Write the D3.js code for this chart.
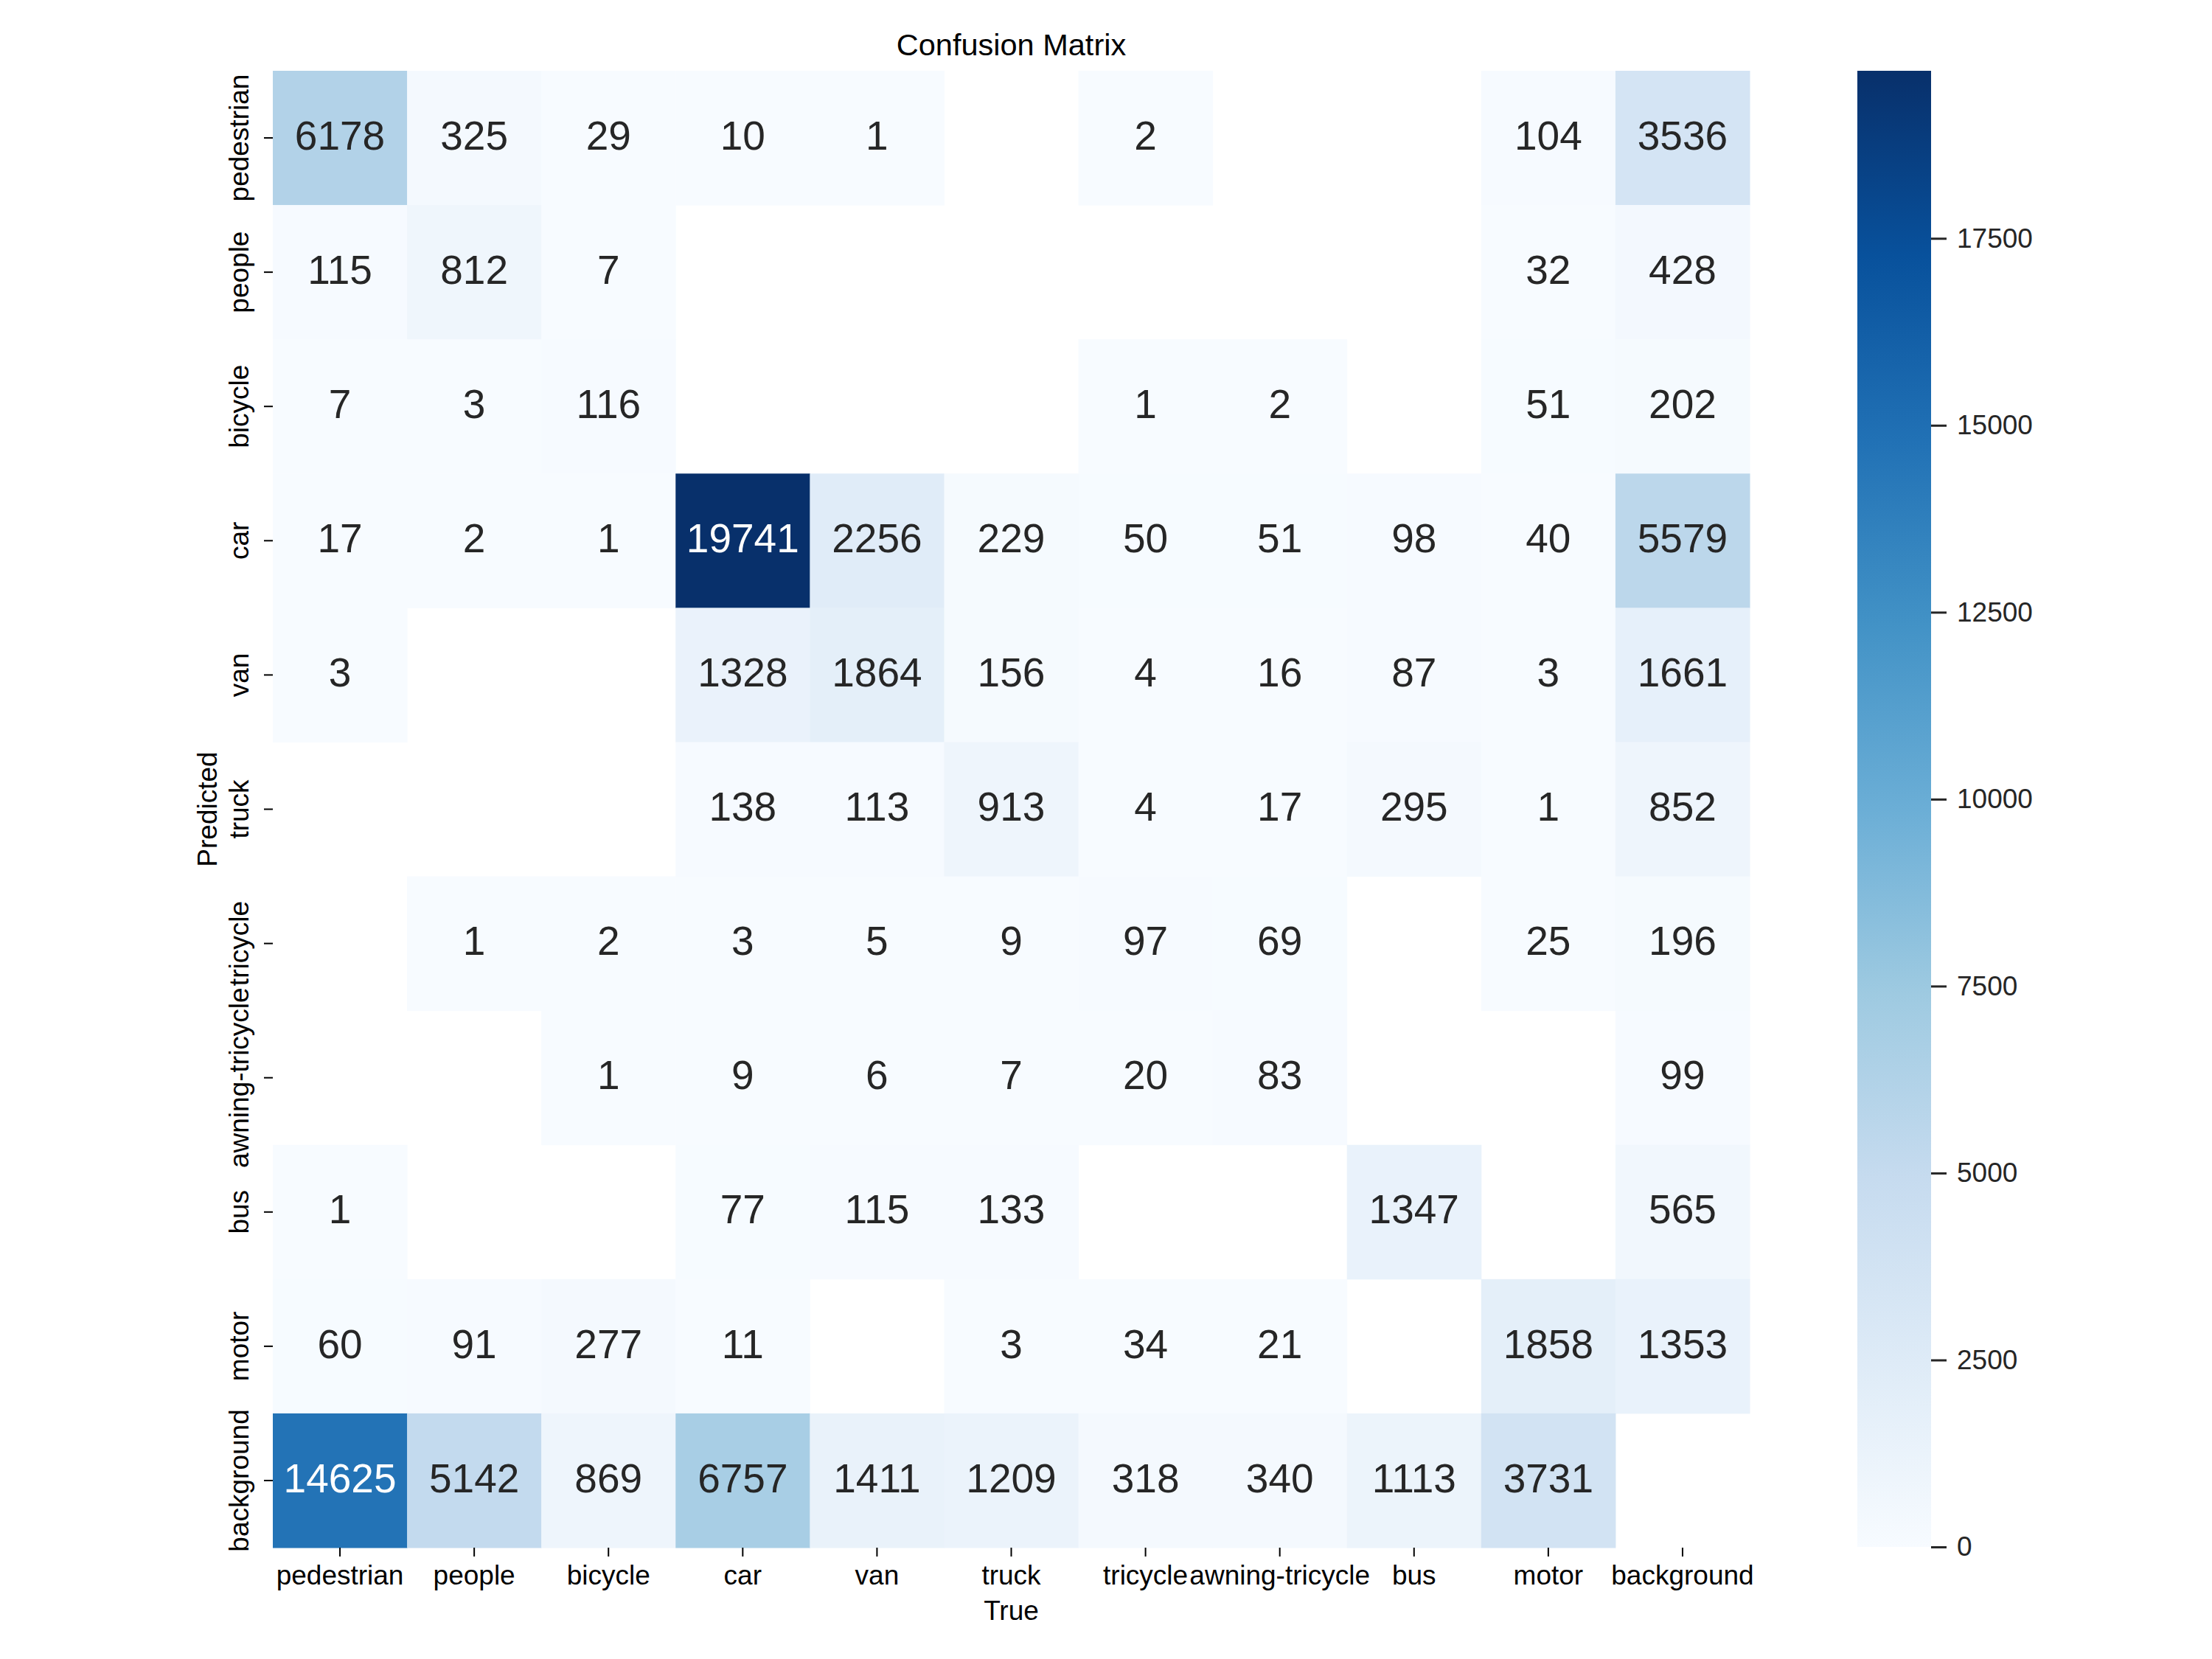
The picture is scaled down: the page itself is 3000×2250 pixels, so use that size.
<!DOCTYPE html>
<html><head><meta charset="utf-8">
<script src="https://cdn.jsdelivr.net/npm/d3@7"></script>
<style>
html,body{margin:0;padding:0;background:#fff;}
text{font-family:"Liberation Sans",Arial,sans-serif;}
</style></head>
<body>
<svg id="chart" width="3000" height="2250"></svg>
<script>
// ---- data ----
const predictedLabels = ["pedestrian","people","bicycle","car","van","truck","tricycle","awning-tricycle","bus","motor","background"];
const trueLabels = ["pedestrian","people","bicycle","car","van","truck","tricycle","awning-tricycle","bus","motor","background"];
// rows = predicted, columns = true; null = empty cell
const rowPedestrian = [6178, 325, 29, 10, 1, null, 2, null, null, 104, 3536];
const rowPeople = [115, 812, 7, null, null, null, null, null, null, 32, 428];
const rowBicycle = [7, 3, 116, null, null, null, 1, 2, null, 51, 202];
const rowCar = [17, 2, 1, 19741, 2256, 229, 50, 51, 98, 40, 5579];
const rowVan = [3, null, null, 1328, 1864, 156, 4, 16, 87, 3, 1661];
const rowTruck = [null, null, null, 138, 113, 913, 4, 17, 295, 1, 852];
const rowTricycle = [null, 1, 2, 3, 5, 9, 97, 69, null, 25, 196];
const rowAwning = [null, null, 1, 9, 6, 7, 20, 83, null, null, 99];
const rowBus = [1, null, null, 77, 115, 133, null, null, 1347, null, 565];
const rowMotor = [60, 91, 277, 11, null, 3, 34, 21, null, 1858, 1353];
const rowBackground = [14625, 5142, 869, 6757, 1411, 1209, 318, 340, 1113, 3731, null];
const matrix = [rowPedestrian,rowPeople,rowBicycle,rowCar,rowVan,rowTruck,rowTricycle,rowAwning,rowBus,rowMotor,rowBackground];
const colorbarTicks = [0, 2500, 5000, 7500, 10000, 12500, 15000, 17500];
const blues = ["#f7fbff","#deebf7","#c6dbef","#9ecae1","#6baed6","#4292c6","#2171b5","#08519c","#08306b"];

// ---- layout ----
const L = 370, R = 2373, T = 96, B = 2099;
const vmin = 0, vmax = d3.max(matrix.flat().filter(v => v != null));
const svg = d3.select("#chart");

const x = d3.scaleBand().domain(trueLabels).range([L, R]).padding(0);
const y = d3.scaleBand().domain(predictedLabels).range([T, B]).padding(0);
const color = d3.scaleLinear()
  .domain(blues.map((_, i) => vmin + (vmax - vmin) * i / (blues.length - 1)))
  .range(blues).interpolate(d3.interpolateRgb).clamp(true);

function lum(c) {
  const rgb = d3.rgb(c);
  const f = v => { v /= 255; return v <= 0.03928 ? v / 12.92 : Math.pow((v + 0.055) / 1.055, 2.4); };
  return 0.2126 * f(rgb.r) + 0.7152 * f(rgb.g) + 0.0722 * f(rgb.b);
}

const cells = [];
matrix.forEach((row, i) => row.forEach((v, j) => {
  if (v != null) cells.push({p: predictedLabels[i], t: trueLabels[j], v});
}));

svg.append("g").selectAll("rect").data(cells).join("rect")
  .attr("x", d => x(d.t)).attr("y", d => y(d.p))
  .attr("width", x.bandwidth() + 0.5).attr("height", y.bandwidth() + 0.5)
  .attr("fill", d => color(d.v));

svg.append("g").selectAll("text").data(cells).join("text")
  .attr("x", d => x(d.t) + x.bandwidth() / 2)
  .attr("y", d => y(d.p) + y.bandwidth() / 2)
  .attr("dy", "0.285em")
  .attr("text-anchor", "middle")
  .attr("font-size", 55)
  .attr("fill", d => lum(color(d.v)) > 0.408 ? "#262626" : "#ffffff")
  .text(d => d3.format("d")(d.v));

// x axis
const gx = svg.append("g").attr("transform", `translate(0,${B})`)
  .call(d3.axisBottom(x).tickSize(12).tickPadding(12));
gx.select(".domain").remove();
gx.selectAll(".tick line").attr("stroke", "#000").attr("stroke-width", 2);
gx.selectAll(".tick text").attr("font-size", 37).attr("fill", "#000")
  .style("font-family", '"Liberation Sans",Arial,sans-serif');

// y axis
const gy = svg.append("g").attr("transform", `translate(${L},0)`)
  .call(d3.axisLeft(y).tickSize(12).tickPadding(12));
gy.select(".domain").remove();
gy.selectAll(".tick line").attr("stroke", "#000").attr("stroke-width", 2);
gy.selectAll(".tick text")
  .attr("font-size", 37).attr("fill", "#000")
  .style("font-family", '"Liberation Sans",Arial,sans-serif')
  .attr("text-anchor", "middle")
  .attr("transform", "rotate(-90)")
  .attr("x", 0).attr("y", -33).attr("dy", 0);

// title & labels
svg.append("text").attr("x", (L + R) / 2).attr("y", 75).attr("text-anchor", "middle")
  .attr("font-size", 41.5).attr("fill", "#000").text("Confusion Matrix");
svg.append("text").attr("x", (L + R) / 2).attr("y", 2197).attr("text-anchor", "middle")
  .attr("font-size", 37).attr("fill", "#000").text("True");
svg.append("text").attr("transform", `translate(294,${(T + B) / 2}) rotate(-90)`)
  .attr("text-anchor", "middle").attr("font-size", 37).attr("fill", "#000").text("Predicted");

// colorbar
const CL = 2519, CW = 100, CT = 96, CB = 2098;
const defs = svg.append("defs");
const grad = defs.append("linearGradient").attr("id", "cbgrad")
  .attr("x1", 0).attr("y1", 1).attr("x2", 0).attr("y2", 0);
blues.forEach((c, i) => grad.append("stop").attr("offset", i / (blues.length - 1)).attr("stop-color", c));
svg.append("rect").attr("x", CL).attr("y", CT).attr("width", CW).attr("height", CB - CT)
  .attr("fill", "url(#cbgrad)");
const cy = d3.scaleLinear().domain([vmin, vmax]).range([CB, CT]);
const gc = svg.append("g").attr("transform", `translate(${CL + CW},0)`)
  .call(d3.axisRight(cy).tickValues(colorbarTicks).tickSize(21).tickPadding(14).tickFormat(d3.format("d")));
gc.select(".domain").remove();
gc.selectAll(".tick line").attr("stroke", "#262626").attr("stroke-width", 3);
gc.selectAll(".tick text").attr("font-size", 37).attr("fill", "#262626")
  .style("font-family", '"Liberation Sans",Arial,sans-serif');
</script>
</body></html>
